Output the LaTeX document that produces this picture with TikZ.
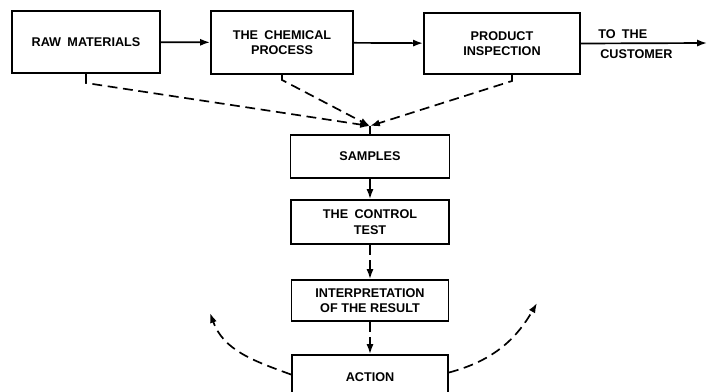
\documentclass[tikz,border=0pt]{standalone}
\usepackage{fontspec}
\setmainfont{Liberation Sans}
\usetikzlibrary{arrows.meta,calc}

\begin{document}
\begin{tikzpicture}[x=0.025cm,y=0.025cm,
    procBox/.style={draw, line width=1.4pt, align=center, inner sep=0pt,
        font=\fontsize{9}{11}\selectfont\bfseries},
    flowLine/.style={line width=1.2pt, -{Latex[length=7pt,width=5pt]}},
    sampleLine/.style={flowLine, dash pattern=on 7pt off 4pt}]
    % constants
    \def\px{0.025cm}
    % page frame
    \clip (0,0) rectangle (708,391);
    % production line
    \node [procBox, minimum width=148*\px, minimum height=62*\px] (raw) at (86,349) {RAW\enspace MATERIALS};
    \node [procBox, minimum width=142*\px, minimum height=63*\px] (chem) at (282,348.5) {THE\enspace CHEMICAL\\PROCESS};
    \node [procBox, minimum width=156*\px, minimum height=61*\px] (insp) at (502,347.5) {PRODUCT\\INSPECTION};
    \coordinate (customer) at (707,348);
    % output labels
    \node [anchor=west, inner sep=0pt, font=\fontsize{9}{11}\selectfont\bfseries] (toThe) at (598,357) {TO\enspace THE};
    \node [anchor=west, inner sep=0pt, font=\fontsize{9}{11}\selectfont\bfseries] (customerLbl) at (600,337) {CUSTOMER};
    % control column
    \coordinate (junction) at (370,265);
    \node [procBox, minimum width=159*\px, minimum height=43*\px] (samples) at (370,234.5) {SAMPLES};
    \node [procBox, minimum width=158*\px, minimum height=44*\px] (control) at (370,169) {THE\enspace CONTROL\\TEST};
    \node [procBox, minimum width=157*\px, minimum height=41*\px] (interp) at (370,90.5) {INTERPRETATION\\OF THE RESULT};
    \node [procBox, minimum width=156*\px, minimum height=45*\px] (action) at (370,13.5) {ACTION};
    % feedback ends
    \coordinate (adjustLeft) at (210,78);
    \coordinate (adjustRight) at (537,88);

    % material flow
    \draw [flowLine] (raw) -- (chem);
    \draw [flowLine] (chem) -- (insp);
    \draw [flowLine] (insp.east) -- (customer);
    % sampling
    \draw [sampleLine] (raw.south) -- ++(0,-9) -- (junction);
    \draw [sampleLine] (chem.south) -- ++(0,-5) -- (junction);
    \draw [sampleLine] ($(insp.south)+(10,0)$) -- ++(0,-6) -- (junction);
    \draw [line width=1.2pt] (junction) -- (samples.north);
    \draw [sampleLine] (samples) -- (control);
    \draw [sampleLine] (control) -- (interp);
    \draw [sampleLine] (interp) -- (action);
    % feedback
    \draw [sampleLine] ($(action.west)+(0,3)$) to[out=160,in=-70] (adjustLeft);
    \draw [sampleLine] ($(action.east)+(0,5)$) to[out=15,in=-120] (adjustRight);
\end{tikzpicture}
\end{document}
